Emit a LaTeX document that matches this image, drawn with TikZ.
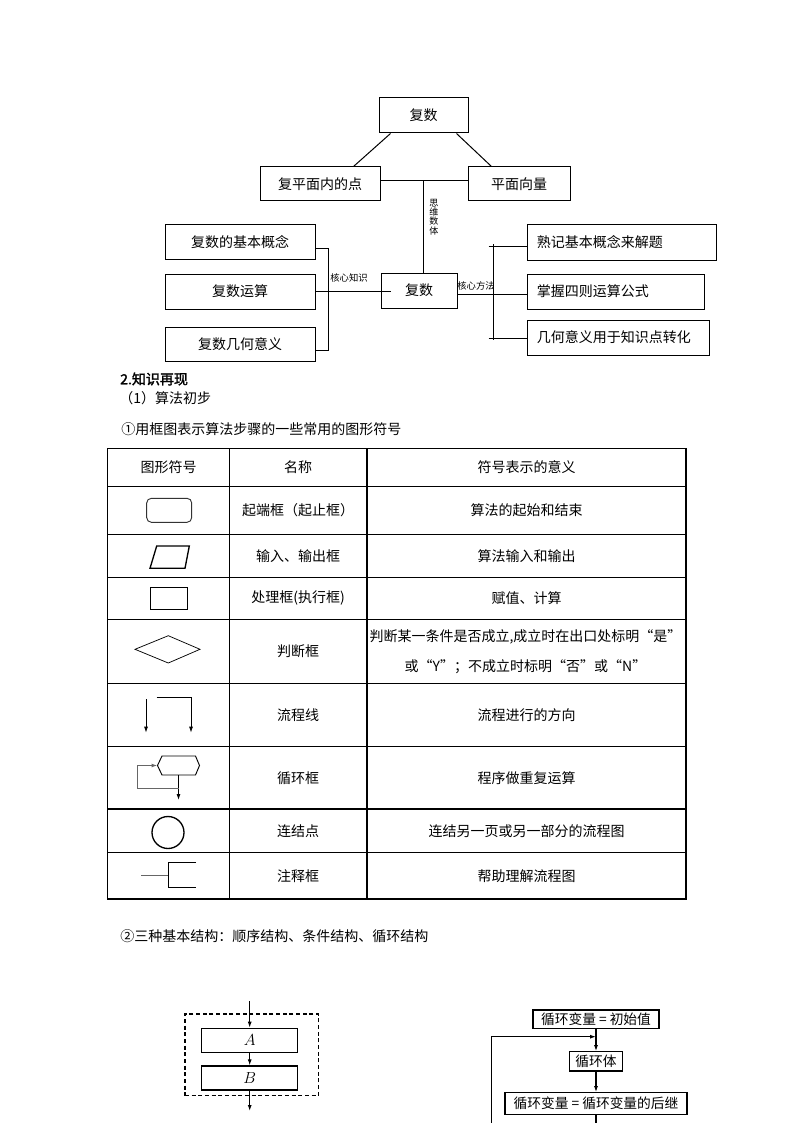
\documentclass[tikz,border=0pt]{standalone}
\usepackage{fontspec}
\setmainfont{Noto Sans CJK SC}[AutoFakeBold=2]
\usetikzlibrary{arrows.meta,fit,calc}
\tikzset{
  ln/.style={line width=0.75pt},
  tfont/.style={inner sep=0pt, font=\fontsize{10.5pt}{12pt}\selectfont},
  tbox/.style={draw, line width=0.75pt, inner sep=0pt},
  rtext/.style={anchor=west, inner sep=0pt, font=\fontsize{10.5pt}{12pt}\selectfont},
  lab/.style={inner sep=0pt, font=\fontsize{7pt}{8pt}\selectfont},
  vlab/.style={inner sep=0pt, align=center, font=\fontsize{6.8pt}{7pt}\selectfont},
  para/.style={anchor=west, inner sep=0pt, font=\fontsize{10.5pt}{12pt}\selectfont},
  tl/.style={line width=0.9pt},
  cell/.style={inner sep=0pt, align=center, font=\fontsize{10.5pt}{23pt}\selectfont},
  sym/.style={line width=0.7pt},
  arr/.style={-{Latex[length=4.5pt,width=3pt]}},
  fbox/.style={draw, line width=0.9pt, inner sep=0pt},
  ffont/.style={inner sep=0pt, font=\fontsize{10.3pt}{12pt}\selectfont},
  mfont/.style={inner sep=0pt, font=\fontsize{12.5pt}{13pt}\selectfont},
}
\begin{document}
\begin{tikzpicture}[x=0.75pt,y=-0.75pt]
\useasboundingbox (0,0) rectangle (794,1123);

% ---------- top concept diagram ----------
\node[tbox, fit={(379,98)(468,133)}, label={[tfont]center:复数}] (T) {};
\node[tbox, fit={(260,167)(380,201)}, label={[tfont]center:复平面内的点}] (P) {};
\node[tbox, fit={(468,167)(570,201)}, label={[tfont]center:平面向量}] (V) {};
\node[tbox, fit={(381,273)(457,308)}, label={[tfont]center:复数}] (C) {};
\node[tbox, fit={(165,225)(315,259)}, label={[tfont]center:复数的基本概念}] (L1) {};
\node[tbox, fit={(165,274)(315,309)}, label={[tfont]center:复数运算}] (L2) {};
\node[tbox, fit={(165,327)(315,361)}, label={[tfont]center:复数几何意义}] (L3) {};
\node[tbox, fit={(527,225)(716,260)}] (R1) {};
\node[tbox, fit={(527,274)(704,309)}] (R2) {};
\node[tbox, fit={(527,320)(709,355)}] (R3) {};
\node[rtext] (R1t) at ($(R1.west)+(10,0)$) {熟记基本概念来解题};
\node[rtext] (R2t) at ($(R2.west)+(10,0)$) {掌握四则运算公式};
\node[rtext] (R3t) at ($(R3.west)+(10,0)$) {几何意义用于知识点转化};

\draw[ln] ($(T.south west)+(12,0)$) -- ($(P.north west)+(94,0)$);
\draw[ln] ($(T.south east)+(-12,0)$) -- ($(V.north west)+(24,0)$);
\draw[ln] ($(P.north east)+(0,14)$) -- ($(V.north west)+(0,14)$);
\coordinate (Pm) at (423,181);
\draw[ln] (Pm) -- (C.north -| Pm);

\draw[ln] ($(L1.east)+(0,6)$) -- ++(13,0) |- ($(L3.east)+(0,6)$);
\draw[ln] (L2.east) -- ($(L2.east -| C.west)+(10,0)$);

\draw[ln] ($(C.east)+(0,4)$) -- ($(C.east -| R2.west)+(0,4)$);
\coordinate (rt) at (493,244);
\coordinate (rb) at (493,340);
\draw[ln] (rt) -- (rb);
\draw[ln] ($(R1.west)+(-38,3.5)$) -- ($(R1.west)+(0,3.5)$);
\draw[ln] ($(R3.west)+(-38,0.5)$) -- ($(R3.west)+(0,0.5)$);

\node[lab] (k1) at (349,278) {核心知识};
\node[lab] (k2) at (476,286) {核心方法};
\node[vlab] (k3) at (434,217) {思\\维\\数\\体};

% ---------- headings ----------
\node[para, font=\fontsize{10.5pt}{12pt}\selectfont\bfseries] (hd1) at (120,379) {2.知识再现};
\node[para] (hd2) at (119,398) {（1）算法初步};
\node[para] (hd3) at (121,429.5) {①用框图表示算法步骤的一些常用的图形符号};

% ---------- table ----------
\draw[tl] (107.5,448.5) rectangle (686,899);
\foreach \yy in {486.7,534.3,577.3,619.3,683.3,746.5,809,852.5}
  \draw[tl] (107.5,\yy) -- (686,\yy);
\foreach \xx in {229.5,367}
  \draw[tl] (\xx,448.5) -- (\xx,899);

\node[cell] (h1) at (168.5,467.6) {图形符号};
\node[cell] (h2) at (298,467.6) {名称};
\node[cell] (h3) at (526.5,467.6) {符号表示的意义};
\node[cell] (n1) at (298,510.5) {起端框（起止框）};
\node[cell] (m1) at (526.5,510.5) {算法的起始和结束};
\node[cell] (n2) at (298,555.8) {输入、输出框};
\node[cell] (m2) at (526.5,555.8) {算法输入和输出};
\node[cell] (n3) at (298,598.3) {处理框(执行框)};
\node[cell] (m3) at (526.5,598.3) {赋值、计算};
\node[cell] (n4) at (298,651.3) {判断框};
\node[cell] (m4) at (525.5,651.8) {判断某一条件是否成立,成立时在出口处标明“是”\\或“Y”；不成立时标明“否”或“N”};
\node[cell] (n5) at (298,714.9) {流程线};
\node[cell] (m5) at (526.5,714.9) {流程进行的方向};
\node[cell] (n6) at (298,777.8) {循环框};
\node[cell] (m6) at (526.5,777.8) {程序做重复运算};
\node[cell] (n7) at (298,830.8) {连结点};
\node[cell] (m7) at (526.5,830.8) {连结另一页或另一部分的流程图};
\node[cell] (n8) at (298,875.8) {注释框};
\node[cell] (m8) at (526.5,875.8) {帮助理解流程图};

% symbols
\draw[sym, rounded corners=3.5pt, draw=black!80] (146.7,498.3) rectangle (191.7,522.3);
\draw[line width=1pt] (156.7,546) -- (189.3,546) -- (185,568.3) -- (150,568.3) -- cycle;
\draw[sym] (150,587.7) rectangle (187.3,609.3);
\draw[line width=0.55pt] (135,649.3) -- (168.3,635.7) -- (200,649.3) -- (168.3,663) -- cycle;
\draw[sym, arr] (146,699.3) -- (146,732.7);
\draw[sym, arr] (156.5,697) -- (191,697) -- (191,732.7);
\draw[sym] (157.5,765.5) -- (162,756) -- (195.5,756) -- (199.5,765.5) -- (195.5,775) -- (162,775) -- cycle;
\draw[sym, arr] (178.5,775) -- (178.5,800);
\draw[line width=0.9pt, draw=black!60, arr] (178.5,788.5) -- (137.5,788.5) -- (137.5,765.5) -- (157.5,765.5);
\draw[line width=1pt] (168,832.5) circle[radius=12pt];
\draw[line width=0.55pt, draw=black!60] (141,875) -- (168.3,875);
\draw[sym] (196,862.3) -- (168.3,862.3) -- (168.3,887.3) -- (196,887.3);

% ---------- structures ----------
\node[para] (hd4) at (120,936) {②三种基本结构：顺序结构、条件结构、循环结构};

\node[draw, dash pattern=on 3pt off 2pt, line width=0.9pt, inner sep=0pt, fit={(185,1014)(318.3,1095.7)}] (S) {};
\node[fbox, fit={(201.7,1028.3)(297.7,1052.3)}, label={[mfont]center:$A$}] (A) {};
\node[fbox, fit={(201.7,1066)(297.7,1090)}, label={[mfont]center:$B$}] (B) {};
\coordinate (sin) at (249.7,1001);
\coordinate (sout) at (249.7,1111);
\draw[arr, line width=0.8pt] (sin) -- (A);
\draw[arr, line width=0.8pt] (A) -- (B);
\draw[arr, line width=0.8pt] (B) -- (sout);

\node[fbox, fit={(533,1010)(659,1028.3)}, label={[ffont]center:循环变量 = 初始值}] (Q1) {};
\node[fbox, fit={(569.5,1051.7)(622.5,1071)}, label={[ffont]center:循环体}] (Q2) {};
\node[fbox, fit={(505,1092.7)(687,1114.3)}, label={[ffont]center:循环变量 = 循环变量的后继}] (Q3) {};
\coordinate (J) at (596,1036.7);
\coordinate (lb) at (491.7,1123);
\coordinate (qb) at (596,1123);
\draw[arr, line width=0.8pt] (Q1) -- (Q2);
\draw[arr, line width=0.8pt] (Q2) -- (Q3);
\draw[arr, line width=0.8pt] (lb) |- (J);
\draw[line width=0.8pt] (Q3) -- (qb);
\end{tikzpicture}
\end{document}
